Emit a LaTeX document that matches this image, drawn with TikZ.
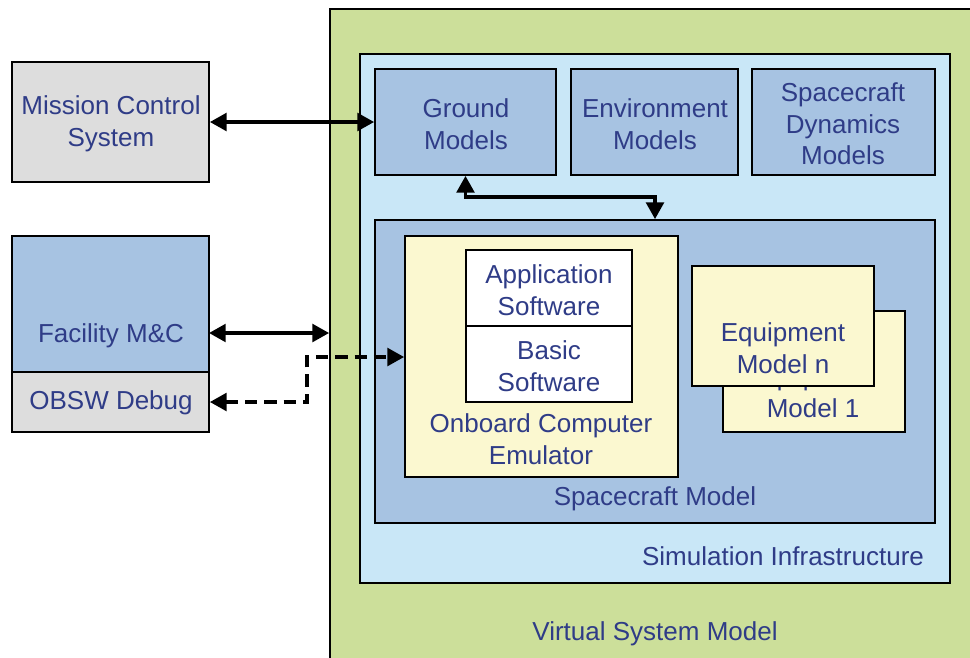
\documentclass[tikz,border=0pt]{standalone}
\usepackage{fontspec}
\setmainfont{Liberation Sans}
\usetikzlibrary{arrows.meta,fit}
\definecolor{vsmgreen}{RGB}{204,223,154}
\definecolor{infblue}{RGB}{201,231,247}
\definecolor{modblue}{RGB}{167,195,226}
\definecolor{emuyellow}{RGB}{251,248,208}
\definecolor{extgray}{RGB}{221,221,221}
\definecolor{txtblue}{RGB}{47,60,135}
\begin{document}
\begin{tikzpicture}[x=0.02cm,y=-0.02cm,
    box/.style={draw=black,line width=1pt,inner sep=0pt},
    txt/.style={text=txtblue,align=center,font=\fontsize{14.8}{18}\selectfont},
    link/.style={line width=2pt,{Triangle[length=9.5pt,width=10pt]}-{Triangle[length=9.5pt,width=10pt]}}]
  \useasboundingbox (0,0) rectangle (970,657);
  \clip (0,0) rectangle (970,657);
  % containers
  \node[box,fill=vsmgreen,fit={(330,9) (1000,700)}] (vsm) {};
  \node[box,fill=infblue,fit={(360,54) (950,583)}] (sim) {};
  \node[box,fill=modblue,fit={(375,69) (556,175)}] (ground) {};
  \node[box,fill=modblue,fit={(571,69) (738,175)}] (env) {};
  \node[box,fill=modblue,fit={(752,69) (935,175)}] (dyn) {};
  \node[box,fill=modblue,fit={(375,220) (935,523)}] (scm) {};
  \node[box,fill=emuyellow,fit={(405,236) (678,477)}] (obc) {};
  \node[box,fill=white,fit={(466,250) (632,326)}] (app) {};
  \node[box,fill=white,fit={(466,326) (632,402)}] (bsw) {};
  \node[box,fill=emuyellow,fit={(723,311) (905,432)}] (eq1) {};
  \node[txt] (eq1txt) at (813,392) {Equipment\\Model 1};
  \node[box,fill=emuyellow,fit={(692,266) (874,386)}] (eqn) {};
  % external systems
  \node[box,fill=extgray,fit={(12,62) (209,182)}] (mcs) {};
  \node[box,fill=modblue,fit={(12,236) (209,372)}] (fac) {};
  \node[box,fill=extgray,fit={(12,372) (209,432)}] (obsw) {};
  % labels
  \node[txt] at (111,124) {Mission Control\\System};
  \node[txt] at (111,336) {Facility M\&C};
  \node[txt] at (111,403) {OBSW Debug};
  \node[txt] at (466,124) {Ground\\Models};
  \node[txt] at (655,124) {Environment\\Models};
  \node[txt] at (843,124) {Spacecraft\\Dynamics\\Models};
  \node[txt] at (549,290) {Application\\Software};
  \node[txt] at (549,366) {Basic\\Software};
  \node[txt] at (541,439) {Onboard Computer\\Emulator};
  \node[txt] at (783,348) {Equipment\\Model n};
  \node[txt] at (655,499) {Spacecraft Model};
  \node[txt] at (783,556) {Simulation Infrastructure};
  \node[txt] at (655,634) {Virtual System Model};
  % connections
  \coordinate (gbend) at (655,197);
  \coordinate (facin) at (209,333);
  \coordinate (dbgtop) at (307,357);
  \draw[link] (mcs.east) -- (mcs.east -| ground.west);
  \draw[link] (ground.south) |- (gbend) -- (gbend |- scm.north);
  \draw[link] (facin) -- (facin -| vsm.west);
  \draw[link,dash pattern=on 7pt off 4pt] (obsw.east) -| (dbgtop) -- (dbgtop -| obc.west);
\end{tikzpicture}
\end{document}
